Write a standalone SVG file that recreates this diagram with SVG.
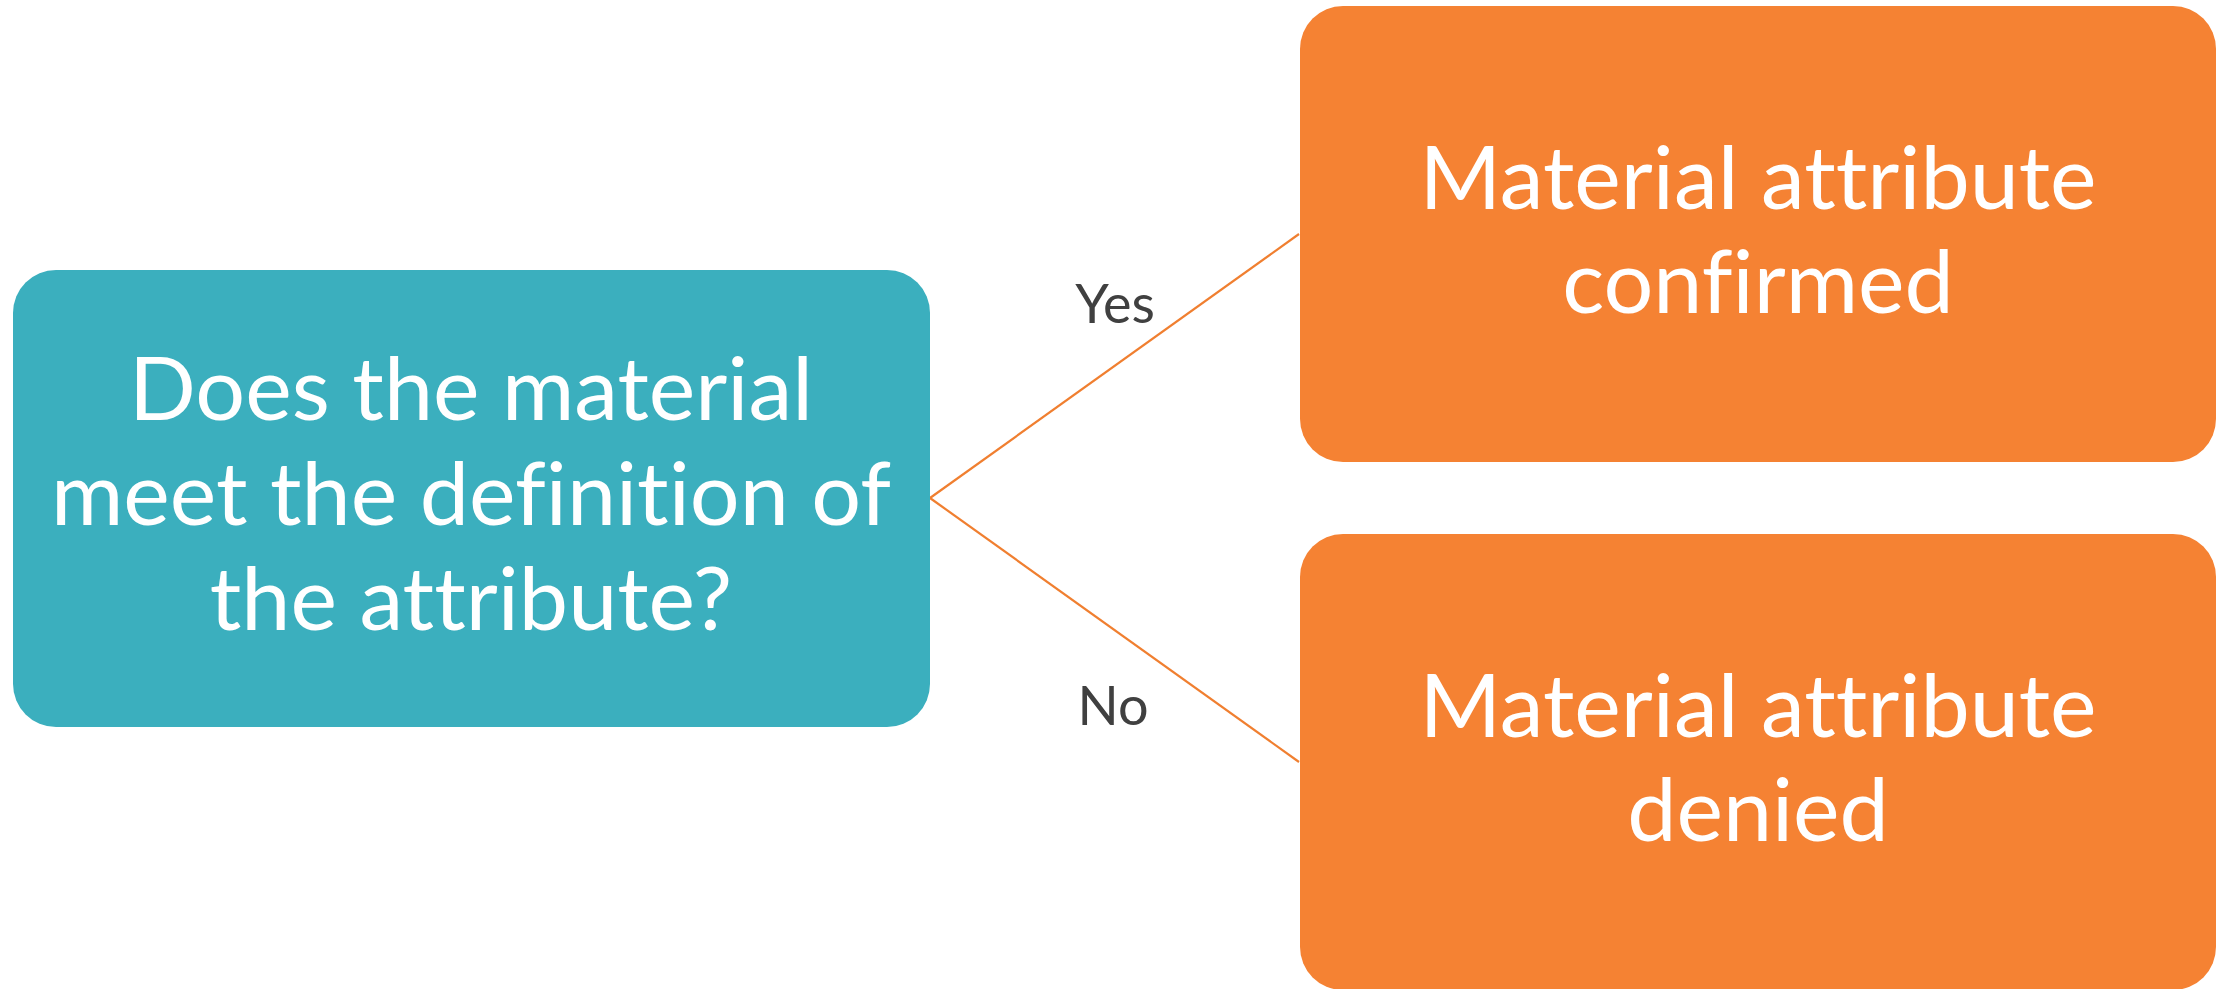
<svg xmlns="http://www.w3.org/2000/svg" width="2231" height="989" viewBox="0 0 2231 989">
<style>
.box-teal{fill:#3BAFBE}
.box-orange{fill:#F58233}
.main{font-family:"Lato","Liberation Sans",sans-serif;font-size:88px;fill:#ffffff;text-anchor:middle;font-variant-ligatures:none;font-feature-settings:"liga" 0}
.lbl{font-family:"Lato","Liberation Sans",sans-serif;font-size:54px;fill:#404040;text-anchor:middle}
.conn{stroke:#F07F30;stroke-width:2.2;fill:none}
</style>
<rect width="2231" height="989" fill="#ffffff"/>
<g id="connectors">
<line class="conn" x1="930" y1="498" x2="1299" y2="234"/>
<line class="conn" x1="930" y1="498" x2="1299" y2="762"/>
<text class="lbl" x="1115" y="323">Yes</text>
<text class="lbl" x="1113" y="725">No</text>
</g>
<g id="question">
<rect class="box-teal" x="13" y="270" width="917" height="457" rx="43" ry="43"/>
<text class="main" x="471" y="420">Does the material</text>
<text class="main" x="471" y="525">meet the definition of</text>
<text class="main" x="471" y="630">the attribute?</text>
</g>
<g id="confirmed">
<rect class="box-orange" x="1300" y="6" width="916" height="456" rx="43" ry="43"/>
<text class="main" x="1758" y="209">Material attribute</text>
<text class="main" x="1758" y="313">confirmed</text>
</g>
<g id="denied">
<rect class="box-orange" x="1300" y="534" width="916" height="456" rx="43" ry="43"/>
<text class="main" x="1758" y="737">Material attribute</text>
<text class="main" x="1758" y="841">denied</text>
</g>
</svg>
